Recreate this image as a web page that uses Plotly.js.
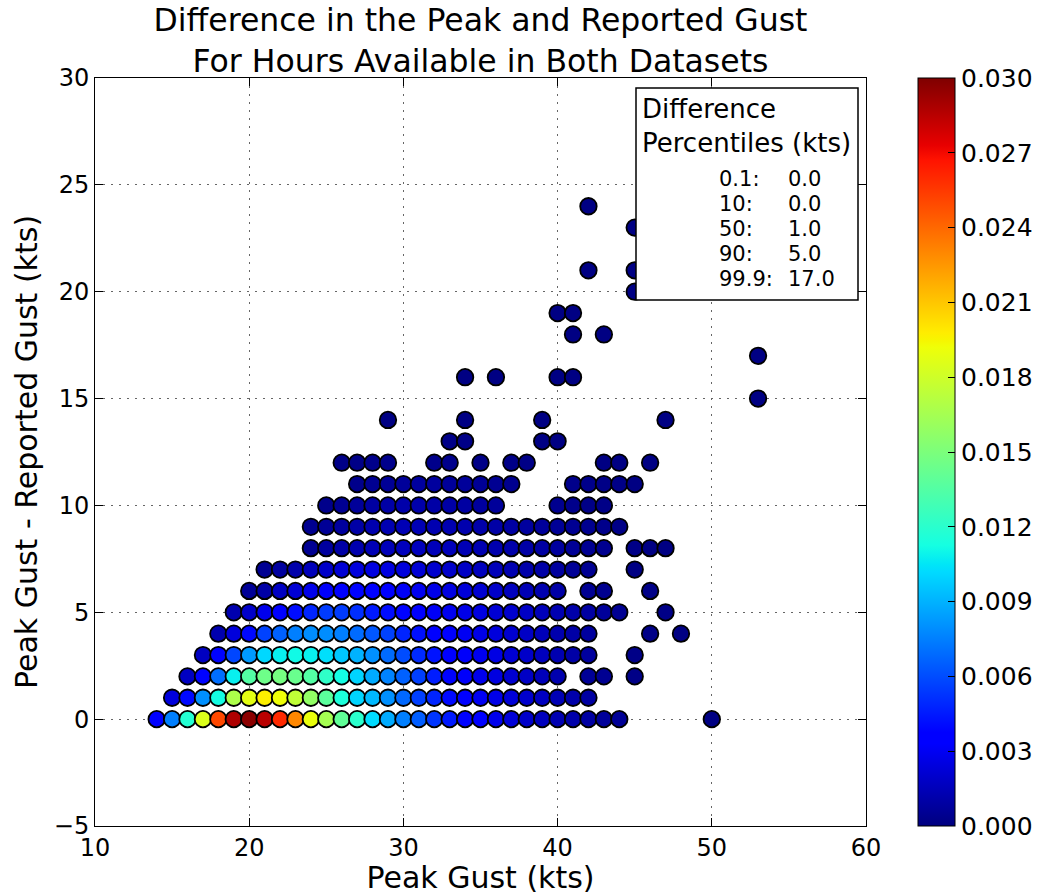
<!DOCTYPE html>
<html>
<head>
<meta charset="utf-8">
<script src="https://cdn.plot.ly/plotly-3.0.1.min.js"></script>
<style>html,body{margin:0;padding:0;background:#fff;}#chart{width:1039px;height:895px;}</style>
</head>
<body>
<div id="chart"></div>
<script>
// Peak gust (x) per difference level (y), and relative frequency (colour)
const diff0_peak = [14,15,16,17,18,19,20,21,22,23,24,25,26,27,28,29,30,31,32,33,34,35,36,37,38,39,40,41,42,43,44,50];
const diff0_freq = [.0037,.0075,.0118,.0185,.0250,.0288,.0297,.0285,.0260,.0230,.0190,.0165,.0140,.0120,.0102,.0088,.0075,.0065,.0053,.0045,.0038,.0033,.0028,.0023,.0019,.0016,.0013,.0011,.0009,.0007,.0006,.0001];
const diff1_peak = [15,16,17,18,19,20,21,22,23,24,25,26,27,28,29,30,31,32,33,34,35,36,37,38,39,40,41,42];
const diff1_freq = [.0024,.0040,.0080,.0112,.0168,.0188,.0197,.0192,.0175,.0158,.0138,.0115,.0100,.0092,.0080,.0068,.0056,.0048,.0040,.0034,.0030,.0027,.0023,.0020,.0017,.0014,.0011,.0009];
const diff2_peak = [16,17,18,19,20,21,22,23,24,25,26,27,28,29,30,31,32,33,34,35,36,37,38,39,40,42,43,45];
const diff2_freq = [.0017,.0038,.0070,.0108,.0135,.0145,.0148,.0143,.0135,.0122,.0112,.0100,.0088,.0076,.0066,.0056,.0046,.0038,.0032,.0028,.0025,.0021,.0018,.0015,.0012,.0006,.0005,.0002];
const diff3_peak = [17,18,19,20,21,22,23,24,25,26,27,28,29,30,31,32,33,34,35,36,37,38,39,40,41,42,45];
const diff3_freq = [.0017,.0038,.0058,.0083,.0101,.0108,.0111,.0108,.0103,.0096,.0090,.0080,.0069,.0060,.0050,.0043,.0037,.0032,.0029,.0026,.0022,.0019,.0016,.0013,.0010,.0008,.0002];
const diff4_peak = [18,19,20,21,22,23,24,25,26,27,28,29,30,31,32,33,34,35,36,37,38,39,40,41,42,46,48];
const diff4_freq = [.0012,.0024,.0040,.0057,.0066,.0075,.0079,.0079,.0075,.0069,.0063,.0057,.0048,.0042,.0037,.0033,.0030,.0027,.0024,.0021,.0018,.0015,.0012,.0010,.0008,.0002,.0001];
const diff5_peak = [19,20,21,22,23,24,25,26,27,28,29,30,31,32,33,34,35,36,37,38,39,40,41,42,43,44,47];
const diff5_freq = [.0012,.0019,.0028,.0034,.0041,.0048,.0055,.0055,.0051,.0045,.0041,.0038,.0035,.0031,.0029,.0027,.0025,.0022,.0020,.0018,.0015,.0013,.0011,.0009,.0007,.0005,.0002];
const diff6_peak = [20,21,22,23,24,25,26,27,28,29,30,31,32,33,34,35,36,37,38,39,40,42,43,46];
const diff6_freq = [.0006,.0010,.0017,.0022,.0027,.0032,.0036,.0038,.0037,.0034,.0031,.0029,.0027,.0025,.0023,.0021,.0019,.0016,.0014,.0012,.0010,.0005,.0004,.0002];
const diff7_peak = [21,22,23,24,25,26,27,28,29,30,31,32,33,34,35,36,37,38,39,40,41,42,45];
const diff7_freq = [.0005,.0008,.0011,.0015,.0019,.0022,.0024,.0025,.0025,.0024,.0022,.0020,.0019,.0018,.0016,.0015,.0013,.0011,.0010,.0008,.0006,.0005,.0001];
const diff8_peak = [24,25,26,27,28,29,30,31,32,33,34,35,36,37,38,39,40,41,42,43,45,46,47];
const diff8_freq = [.0005,.0008,.0010,.0012,.0014,.0015,.0016,.0016,.0015,.0015,.0014,.0013,.0012,.0011,.0010,.0009,.0008,.0006,.0005,.0004,.0002,.0001,.0001];
const diff9_peak = [24,25,26,27,28,29,30,31,32,33,34,35,36,37,38,39,40,41,42,43,44];
const diff9_freq = [.0004,.0006,.0008,.0010,.0012,.0013,.0014,.0014,.0013,.0013,.0012,.0011,.0010,.0009,.0008,.0007,.0006,.0005,.0004,.0003,.0002];
const diff10_peak = [25,26,27,28,29,30,31,32,33,34,35,36,40,41,42,43];
const diff10_freq = [.0003,.0005,.0007,.0009,.0010,.0011,.0011,.0010,.0010,.0009,.0008,.0007,.0004,.0003,.0002,.0002];
const diff11_peak = [27,28,29,30,31,32,33,34,35,36,37,41,42,43,44,45];
const diff11_freq = [.0003,.0005,.0006,.0007,.0008,.0008,.0007,.0007,.0006,.0005,.0004,.0003,.0003,.0002,.0002,.0001];
const diff12_peak = [26,27,28,29,32,33,35,37,38,43,44,46];
const diff12_freq = [.0002,.0002,.0003,.0003,.0003,.0003,.0002,.0002,.0002,.0001,.0001,.0001];
const diff13_peak = [33,34,39,40];
const diff13_freq = [.0002,.0002,.0001,.0001];
const diff14_peak = [29,34,39,47];
const diff14_freq = [.0001,.0001,.0001,.0001];
const diff15_peak = [53];
const diff15_freq = [.0001];
const diff16_peak = [34,36,40,41];
const diff16_freq = [.0001,.0001,.0001,.0001];
const diff17_peak = [53];
const diff17_freq = [.0001];
const diff18_peak = [41,43];
const diff18_freq = [.0001,.0001];
const diff19_peak = [40,41];
const diff19_freq = [.0001,.0001];
const diff20_peak = [45];
const diff20_freq = [.0001];
const diff21_peak = [42,45];
const diff21_freq = [.0001,.0001];
const diff23_peak = [45];
const diff23_freq = [.0001];
const diff24_peak = [42];
const diff24_freq = [.0001];

const pctLabels = ["0.1:", "10:", "50:", "90:", "99.9:"];
const pctValues = ["0.0", "0.0", "1.0", "5.0", "17.0"];
const cbTicks = [0, 0.003, 0.006, 0.009, 0.012, 0.015, 0.018, 0.021, 0.024, 0.027, 0.030];

const rows = [
  [0, diff0_peak, diff0_freq], [1, diff1_peak, diff1_freq], [2, diff2_peak, diff2_freq],
  [3, diff3_peak, diff3_freq], [4, diff4_peak, diff4_freq], [5, diff5_peak, diff5_freq],
  [6, diff6_peak, diff6_freq], [7, diff7_peak, diff7_freq], [8, diff8_peak, diff8_freq],
  [9, diff9_peak, diff9_freq], [10, diff10_peak, diff10_freq], [11, diff11_peak, diff11_freq],
  [12, diff12_peak, diff12_freq], [13, diff13_peak, diff13_freq], [14, diff14_peak, diff14_freq],
  [15, diff15_peak, diff15_freq], [16, diff16_peak, diff16_freq], [17, diff17_peak, diff17_freq],
  [18, diff18_peak, diff18_freq], [19, diff19_peak, diff19_freq], [20, diff20_peak, diff20_freq],
  [21, diff21_peak, diff21_freq], [23, diff23_peak, diff23_freq], [24, diff24_peak, diff24_freq]
];

const xs = [], ys = [], cs = [];
rows.forEach(function (r) {
  r[1].forEach(function (p, i) { xs.push(p); ys.push(r[0]); cs.push(r[2][i]); });
});

const jet = [
  [0, 'rgb(0,0,127)'], [0.11, 'rgb(0,0,255)'], [0.125, 'rgb(0,0,255)'],
  [0.34, 'rgb(0,219,255)'], [0.35, 'rgb(0,230,247)'], [0.375, 'rgb(21,255,226)'],
  [0.64, 'rgb(239,255,8)'], [0.65, 'rgb(247,245,0)'], [0.66, 'rgb(255,236,0)'],
  [0.89, 'rgb(255,19,0)'], [0.91, 'rgb(232,0,0)'], [1, 'rgb(127,0,0)']
];

const FONT = 'DejaVu Sans, Verdana, sans-serif';

const trace = {
  type: 'scatter', mode: 'markers', x: xs, y: ys,
  marker: {
    size: 16.5, color: cs, colorscale: jet, cmin: 0, cmax: 0.03,
    line: {color: 'black', width: 1.8},
    showscale: true,
    colorbar: {
      xref: 'container', x: 0.8835, xanchor: 'left', xpad: 0, ypad: 0,
      y: 0.5, yanchor: 'middle', len: 1, lenmode: 'fraction',
      thickness: 37, thicknessmode: 'pixels',
      outlinecolor: 'black', outlinewidth: 1,
      tickvals: cbTicks, tickformat: '.3f',
      ticks: 'inside', ticklen: 7, tickcolor: 'black',
      tickfont: {family: FONT, size: 25, color: 'black'}
    }
  },
  hoverinfo: 'x+y'
};

const PW = 771, PH = 748, ML = 95, MB = 69;
function px2x(p) { return (p - ML) / PW; }
function py2y(p) { return (895 - MB - p) / PH; }

const annotations = [
  {xref: 'paper', yref: 'paper', x: px2x(640), y: py2y(92), xanchor: 'left', yanchor: 'top', align: 'left',
   showarrow: false, text: 'Difference<br>Percentiles (kts)', font: {family: FONT, size: 26, color: 'black'}}
];
pctLabels.forEach(function (lab, i) {
  const yc = py2y(179 + i * 25);
  annotations.push({xref: 'paper', yref: 'paper', x: px2x(717), y: yc, xanchor: 'left', yanchor: 'middle',
    showarrow: false, text: lab, font: {family: FONT, size: 21, color: 'black'}});
  annotations.push({xref: 'paper', yref: 'paper', x: px2x(786), y: yc, xanchor: 'left', yanchor: 'middle',
    showarrow: false, text: pctValues[i], font: {family: FONT, size: 21, color: 'black'}});
});

const gridDash = '2px,6px';
const layout = {
  width: 1039, height: 895,
  margin: {l: ML, r: 1039 - ML - PW, t: 895 - MB - PH, b: MB},
  paper_bgcolor: 'white', plot_bgcolor: 'white',
  font: {family: FONT, color: 'black'},
  showlegend: false,
  title: {
    text: 'Difference in the Peak and Reported Gust<br>For Hours Available in Both Datasets',
    font: {family: FONT, size: 31.5, color: 'black'},
    xref: 'paper', x: 0.5, xanchor: 'center',
    yref: 'paper', y: 1, yanchor: 'bottom', pad: {b: 47}
  },
  xaxis: {
    range: [10, 60], tickmode: 'linear', tick0: 10, dtick: 10,
    showgrid: true, gridcolor: '#666', griddash: gridDash, gridwidth: 1,
    zeroline: false, showline: true, linecolor: 'black', linewidth: 1, mirror: 'ticks',
    ticks: 'inside', ticklen: 8, tickcolor: 'black',
    tickfont: {family: FONT, size: 24, color: 'black'},
    title: {text: 'Peak Gust (kts)', font: {family: FONT, size: 30, color: 'black'}, standoff: 0}
  },
  yaxis: {
    range: [-5, 30], tickmode: 'linear', tick0: -5, dtick: 5,
    showgrid: true, gridcolor: '#666', griddash: gridDash, gridwidth: 1,
    zeroline: false, showline: true, linecolor: 'black', linewidth: 1, mirror: 'ticks',
    ticks: 'inside', ticklen: 8, tickcolor: 'black',
    tickfont: {family: FONT, size: 24, color: 'black'},
    title: {text: 'Peak Gust - Reported Gust (kts)', font: {family: FONT, size: 30, color: 'black'}, standoff: 7}
  },
  shapes: [{
    type: 'rect', xref: 'paper', yref: 'paper', layer: 'above',
    x0: px2x(636), x1: px2x(858), y0: py2y(300), y1: py2y(88),
    line: {color: 'black', width: 1.5}, fillcolor: 'white'
  }],
  annotations: annotations
};

Plotly.newPlot('chart', [trace], layout, {displayModeBar: false, staticPlot: true});
</script>
</body>
</html>
